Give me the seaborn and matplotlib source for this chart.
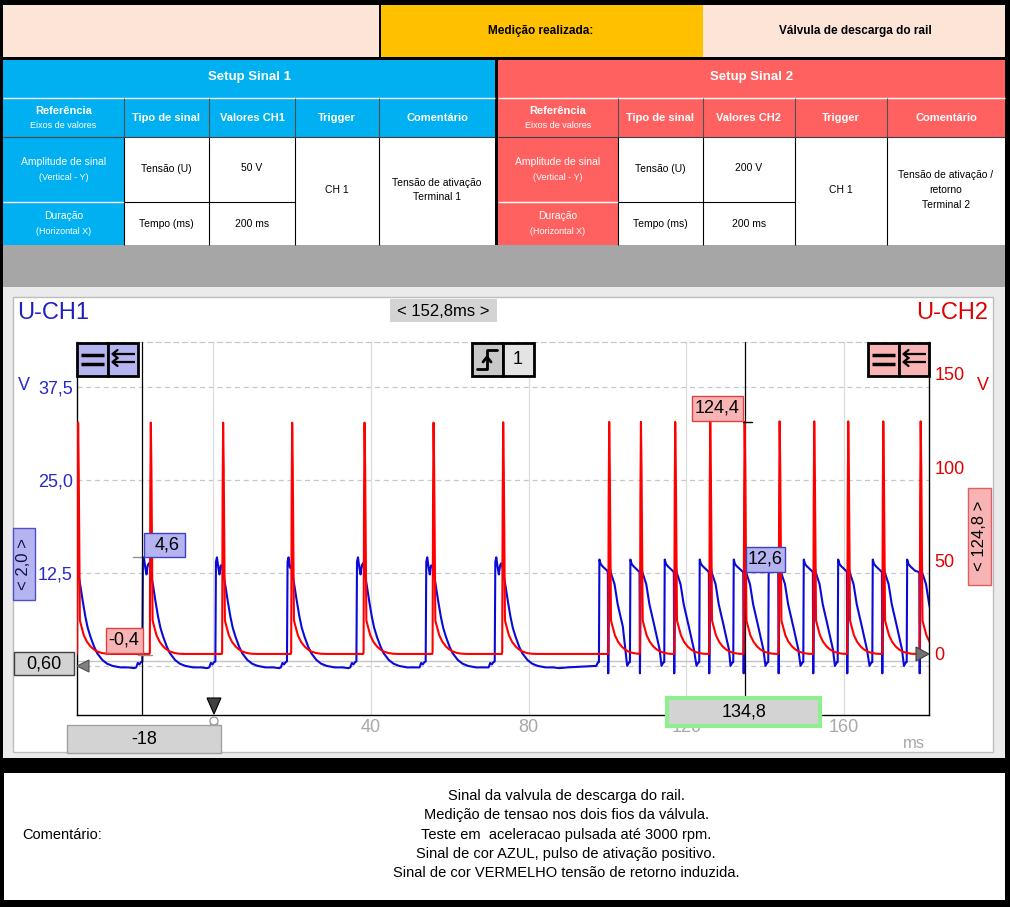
import numpy as np
import pandas as pd
import matplotlib
matplotlib.use("Agg")
import matplotlib.pyplot as plt
from matplotlib.patches import Rectangle, Polygon, Circle
import seaborn as sns

# ---------------- data ----------------
header_mid = "Medição realizada:"
header_right = "Válvula de descarga do rail"
setup_titles = ["Setup Sinal 1", "Setup Sinal 2"]
ref_header = ("Referência", "Eixos de valores")
col_headers_1 = ["Tipo de sinal", "Valores CH1", "Trigger", "Comentário"]
col_headers_2 = ["Tipo de sinal", "Valores CH2", "Trigger", "Comentário"]
row_labels = [("Amplitude de sinal", "(Vertical - Y)"), ("Duração", "(Horizontal X)")]
tipo_sinal = ["Tensão (U)", "Tempo (ms)"]
valores_ch1 = ["50 V", "200 ms"]
valores_ch2 = ["200 V", "200 ms"]
trigger_val = "CH 1"
comentario_1 = ["Tensão de ativação", "Terminal 1"]
comentario_2 = ["Tensão de ativação /", "retorno", "Terminal 2"]
comment_label = "Comentário:"
comment_lines = [
    "Sinal da valvula de descarga do rail.",
    "Medição de tensao nos dois fios da válvula.",
    "Teste em  aceleracao pulsada até 3000 rpm.",
    "Sinal de cor AZUL, pulso de ativação positivo.",
    "Sinal de cor VERMELHO tensão de retorno induzida.",
]

ch1_name, ch2_name = "U-CH1", "U-CH2"
ch1_ticks = [12.5, 25.0, 37.5]
ch1_tick_labels = ["12,5", "25,0", "37,5"]
ch2_ticks = [0, 50, 100, 150]
ch2_tick_labels = ["0", "50", "100", "150"]
time_ticks = [0, 40, 80, 120, 160]
time_tick_labels = ["0", "40", "80", "120", "160"]
time_range = (-34.6, 181.6)
ch1_range = (-6.6, 43.55)
ch2_range = (-32.7, 167.1)
cursor_times = [-18.0, 134.8]
cursor_ch1 = [14.6, 12.6]
cursor_ch2 = [-0.4, 124.4]
ch1_offset_marker = 0.60

# pulse events (ms): blue rise times and red spike times
blue_onset_ms = [-36.4, -17.97, 0.56, 18.73, 36.35, 53.93, 71.45, 97.84, 105.71,
                 114.42, 123.30, 131.93, 140.81, 149.70, 158.43, 167.21, 175.94]
red_spike_ms = [-34.57, -16.12, 2.23, 19.75, 38.12, 55.63, 73.30, 100.20, 108.25,
                116.95, 125.84, 134.57, 143.45, 152.23, 160.86, 169.75, 179.24]
red_peak_v = [123.9, 123.9, 123.9, 123.9, 123.9, 123.9, 124.1, 124.3, 124.3,
              124.3, 124.6, 124.4, 124.6, 124.6, 124.6, 124.6, 124.6]
pulse_kind = ["slow"] * 7 + ["fast"] * 10

# pulse shapes: (ms offset, volts)
slow_blue_pre = [(-1.6, -0.2), (-1.2, 0.4), (-0.8, 0.2), (-0.4, 0.5), (-0.05, 0.6),
                 (0.1, 14.0), (0.35, 14.6), (0.7, 13.2), (1.0, 12.3), (1.3, 13.5), (1.6, 13.8)]
slow_blue_post = [(0.0, 13.5), (0.3, 12.4), (0.85, 10.7), (1.4, 8.8), (2.1, 6.6), (2.7, 5.1),
                  (3.4, 3.9), (4.3, 2.6), (5.1, 1.7), (6.4, 0.8), (7.6, 0.3), (9.0, 0.0),
                  (11.0, -0.2), (13.0, -0.2), (14.5, -0.3), (16.5, -0.2)]
fast_blue_pre = [(-0.7, 0.0), (-0.2, 0.5), (0.0, 0.5), (0.12, 14.3), (0.45, 13.7), (0.9, 13.4),
                 (1.5, 13.1), (2.1, 12.8)]
fast_blue_post = [(-0.1, 12.6), (0.0, -1.0), (0.12, 6.0), (0.25, 13.8), (0.6, 12.6),
                  (1.6, 11.0), (2.4, 8.3), (3.7, 5.3), (5.0, 2.2), (6.2, 0.5), (7.5, 0.2)]
red_shape = [(-0.1, 0.0), (0.0, 1.0), (0.12, 85.0), (0.25, None), (0.4, 100.0), (0.55, 55.0),
             (0.7, 18.0), (1.0, 15.5), (1.7, 10.0), (2.5, 6.5), (3.4, 4.0), (4.2, 2.5),
             (5.1, 1.3), (6.3, 0.5), (7.5, 0.1), (9.0, 0.0)]


def build_blue():
    ts, vs = [], []
    n = len(blue_onset_ms)
    for i in range(n):
        t0, tr = blue_onset_ms[i], red_spike_ms[i]
        pre, post = (slow_blue_pre, slow_blue_post) if pulse_kind[i] == "slow" else (fast_blue_pre, fast_blue_post)
        pts = [(t0 + d, v) for d, v in pre if t0 + d < tr - 0.1]
        pts += [(tr + d, v) for d, v in post]
        if i + 1 < n:
            npre = slow_blue_pre if pulse_kind[i + 1] == "slow" else fast_blue_pre
            limit = blue_onset_ms[i + 1] + npre[0][0]
            pts = [p for p in pts if p[0] < limit]
        ts += [p[0] for p in pts]
        vs += [p[1] for p in pts]
    return ts, vs


def build_red():
    ts, vs = [], []
    n = len(red_spike_ms)
    for i in range(n):
        tr = red_spike_ms[i]
        pts = [(tr + d, red_peak_v[i] if v is None else v) for d, v in red_shape]
        if i + 1 < n:
            limit = red_spike_ms[i + 1] + red_shape[0][0]
            pts = [p for p in pts if p[0] < limit]
        ts += [p[0] for p in pts]
        vs += [p[1] for p in pts]
    return ts, vs


bt, bv = build_blue()
rt, rv = build_red()
blue_df = pd.DataFrame({"t": bt, "u": bv})
red_df = pd.DataFrame({"t": rt, "u": rv})

# ---------------- style ----------------
sns.set_theme(style="white")
plt.rcParams["font.family"] = ["Liberation Sans", "DejaVu Sans"]

W, H = 1010, 907
fig = plt.figure(figsize=(W / 100, H / 100), dpi=100)

BLUE_CELL = "#00B0F0"
RED_CELL = "#FF6161"
PEACH = "#FCE4D6"
GOLD = "#FFC000"
TRACE_BLUE = "#0A0AD8"
TRACE_RED = "#FF0000"
LBL_BLUE = "#2828C8"
LBL_RED = "#E00000"

bg = fig.add_axes([0, 0, 1, 1], zorder=0)
bg.set_xlim(0, W)
bg.set_ylim(H, 0)
bg.axis("off")


def rect(ax, x0, y0, x1, y1, fc, ec="none", lw=0, z=1):
    ax.add_patch(Rectangle((x0, y0), x1 - x0, y1 - y0, facecolor=fc, edgecolor=ec, linewidth=lw, zorder=z))


def line(ax, x0, y0, x1, y1, c, lw=1.0, z=3):
    ax.plot([x0, x1], [y0, y1], color=c, lw=lw, zorder=z, solid_capstyle="butt")


def txt(ax, x, y, s, size=8, color="black", weight="normal", ha="center", va="center", z=5, **kw):
    ax.text(x, y, s, fontsize=size, color=color, fontweight=weight, ha=ha, va=va, zorder=z, **kw)


# black frame
rect(bg, 0, 0, W, H, "black", z=0)
# row 1
rect(bg, 3, 5, 379, 57, PEACH)
rect(bg, 381, 5, 703, 57, GOLD)
rect(bg, 703, 5, 1005, 57, PEACH)
txt(bg, 541, 31, header_mid, size=8.5, weight="bold")
txt(bg, 855, 31, header_right, size=8.5, weight="bold")

rows_y = [60, 98, 137, 202, 245]
sections = [
    ([3, 124, 209, 295, 379, 495], BLUE_CELL, setup_titles[0], col_headers_1, valores_ch1, comentario_1),
    ([498, 618, 703, 795, 887, 1005], RED_CELL, setup_titles[1], col_headers_2, valores_ch2, comentario_2),
]
for cols, cc, title, heads, vals, comm in sections:
    rect(bg, cols[0], rows_y[0], cols[-1], rows_y[1], cc)
    txt(bg, (cols[0] + cols[-1]) / 2, 77, title, size=9.5, color="white", weight="bold")
    rect(bg, cols[0], rows_y[1], cols[-1], rows_y[2], cc)
    rect(bg, cols[0], rows_y[2], cols[1], rows_y[4], cc)
    rect(bg, cols[1], rows_y[2], cols[-1], rows_y[4], "white")
    line(bg, cols[0], rows_y[1], cols[-1], rows_y[1], "white", 1.0)
    for cx in cols[1:-1]:
        line(bg, cx, rows_y[1], cx, rows_y[2], "#505050", 0.8)
        line(bg, cx, rows_y[2], cx, rows_y[4], "black", 0.8)
    line(bg, cols[0], rows_y[2], cols[-1], rows_y[2], "#404040", 0.8)
    line(bg, cols[0], rows_y[3], cols[1], rows_y[3], "white", 1.0)
    line(bg, cols[1], rows_y[3], cols[3], rows_y[3], "black", 0.8)
    cxm = [(cols[k] + cols[k + 1]) / 2 for k in range(5)]
    txt(bg, cxm[0], 111, ref_header[0], size=8, color="white", weight="bold")
    txt(bg, cxm[0], 126, ref_header[1], size=6.5, color="white")
    for k, h in enumerate(heads):
        txt(bg, cxm[k + 1], 118, h, size=8, color="white", weight="bold")
    txt(bg, cxm[0], 162, row_labels[0][0], size=7.5, color="white")
    txt(bg, cxm[0], 177, row_labels[0][1], size=6.5, color="white")
    txt(bg, cxm[0], 216, row_labels[1][0], size=7.5, color="white")
    txt(bg, cxm[0], 231, row_labels[1][1], size=6.5, color="white")
    txt(bg, cxm[1], 169, tipo_sinal[0], size=7.5)
    txt(bg, cxm[1], 224, tipo_sinal[1], size=7.5)
    txt(bg, cxm[2], 168, vals[0], size=7.5)
    txt(bg, cxm[2], 224, vals[1], size=7.5)
    txt(bg, cxm[3], 190, trigger_val, size=7.5)
    n = len(comm)
    for j, s in enumerate(comm):
        txt(bg, cxm[4], 190 + (j - (n - 1) / 2) * 15, s, size=7.5)

# grey band and oscilloscope panel
rect(bg, 3, 245, 1005, 287, "#A6A6A6")
rect(bg, 3, 287, 1005, 758, "#EBEBEB")
rect(bg, 13, 297, 993, 752, "white", ec="#BDBDBD", lw=1.0)
# comment box
rect(bg, 4, 773, 1005, 900, "white")
txt(bg, 22, 835, comment_label, size=10.5, ha="left", family=["Liberation Sans Narrow", "Liberation Sans"])
for j, s in enumerate(comment_lines):
    txt(bg, 566, 796 + j * 19.3, s, size=10.5, family=["Liberation Sans Narrow", "Liberation Sans"])

# ---------------- oscilloscope plot ----------------
x_left, x_right, y_top, y_bot = 77, 929, 342, 715
pos = [x_left / W, 1 - y_bot / H, (x_right - x_left) / W, (y_bot - y_top) / H]
ax = fig.add_axes(pos, zorder=1)
ax.set_facecolor("white")
ax2 = ax.twinx()
ax2.set_zorder(2)
ax2.patch.set_visible(False)

# grid
for yv in [0.0] + ch1_ticks:
    ax.axhline(yv, color="#C8C8C8", lw=0.9, ls=(0, (4, 3)), zorder=0)
for xv in time_ticks:
    ax.axvline(xv, color="#DCDCDC", lw=0.9, zorder=0)
ax.axhline(ch1_offset_marker, color="#C4C4C4", lw=1.0, zorder=0.5)

sns.lineplot(data=blue_df, x="t", y="u", ax=ax, estimator=None, sort=False,
             color=TRACE_BLUE, linewidth=1.5)
sns.lineplot(data=red_df, x="t", y="u", ax=ax2, estimator=None, sort=False,
             color=TRACE_RED, linewidth=1.5)

# cursors
ax2.axvline(cursor_times[0], color="black", lw=0.9, zorder=1)
ax2.axvline(cursor_times[1], color="black", lw=0.9, zorder=1)
ax.plot([cursor_times[0] - 2.5, cursor_times[0]], [cursor_ch1[0]] * 2, color="#909090", lw=1.0)
ax2.plot([cursor_times[0] - 1.0, cursor_times[0] + 2.5], [cursor_ch2[0]] * 2, color="#909090", lw=1.0)
ax2.plot([cursor_times[1] - 0.3, cursor_times[1] + 2.0], [cursor_ch2[1]] * 2, color="black", lw=1.0)

ax.set_xlim(*time_range)
ax.set_ylim(*ch1_range)
ax2.set_ylim(*ch2_range)
ax.set_xlabel("")
ax.set_ylabel("")
ax2.set_ylabel("")
ax.set_xticks(time_ticks)
ax.set_xticklabels(time_tick_labels)
ax.set_yticks(ch1_ticks)
ax.set_yticklabels(ch1_tick_labels)
ax2.set_yticks(ch2_ticks)
ax2.set_yticklabels(ch2_tick_labels)
ax.tick_params(axis="x", length=0, pad=3, labelsize=13, labelcolor="#A8A8A8")
ax.tick_params(axis="y", length=0, pad=3, labelsize=13, labelcolor=LBL_BLUE)
ax2.tick_params(axis="y", length=0, pad=4, labelsize=13, labelcolor=LBL_RED)
for a in (ax, ax2):
    for s in a.spines.values():
        s.set_visible(False)
ax.spines["left"].set_visible(True)
ax.spines["bottom"].set_visible(True)
ax.spines["left"].set_color("black")
ax.spines["bottom"].set_color("black")
ax.spines["left"].set_linewidth(1.0)
ax.spines["bottom"].set_linewidth(1.0)
ax2.spines["right"].set_visible(True)
ax2.spines["right"].set_color("black")
ax2.spines["right"].set_linewidth(1.0)
ax.spines["top"].set_visible(True)
ax.spines["top"].set_color("#C8C8C8")
ax.spines["top"].set_linestyle((0, (4, 3)))
ax.spines["top"].set_linewidth(0.9)

# ---------------- overlay (labels, boxes, icons) ----------------
ov = fig.add_axes([0, 0, 1, 1], zorder=5)
ov.set_xlim(0, W)
ov.set_ylim(H, 0)
ov.axis("off")
ov.patch.set_visible(False)

txt(ov, 17, 313, ch1_name, size=17, color="#2020C0", ha="left")
txt(ov, 988, 313, ch2_name, size=17, color=LBL_RED, ha="right")
txt(ov, 24, 386, "V", size=13, color=LBL_BLUE)
txt(ov, 983, 386, "V", size=13, color=LBL_RED)
txt(ov, 914, 743, "ms", size=12, color="#A8A8A8")

# delta-time box
dt = cursor_times[1] - cursor_times[0]
rect(ov, 390, 299, 497, 322, "#D3D3D3")
txt(ov, 443, 311, "< " + f"{dt:.1f}".replace(".", ",") + "ms >", size=12)

# channel icons
def icon_pair(x0, fc):
    for k in range(2):
        rect(ov, x0 + k * 30.5, 343, x0 + (k + 1) * 30.5, 376, fc, ec="black", lw=2.0, z=6)
    line(ov, x0 + 4, 355, x0 + 27, 355, "black", 2.5, 7)
    line(ov, x0 + 4, 364, x0 + 27, 364, "black", 2.5, 7)
    xa = x0 + 30.5
    for yy in (354, 362):
        line(ov, xa + 5, yy, xa + 27, yy, "black", 1.6, 7)
        ov.plot([xa + 10, xa + 5, xa + 10], [yy - 4, yy, yy + 4], color="black", lw=1.6, zorder=7)


icon_pair(77, "#B4B4F0")
icon_pair(868, "#F8B4B4")
# trigger icon
rect(ov, 472, 343, 503, 376, "#C8C8C8", ec="black", lw=2.0, z=6)
rect(ov, 503, 343, 534, 376, "#E4E4E4", ec="black", lw=2.0, z=6)
ov.plot([477, 487, 487, 497], [369, 369, 350, 350], color="black", lw=2.0, zorder=7)
ov.plot([483, 487, 491], [362, 357, 362], color="black", lw=2.0, zorder=7)
txt(ov, 518, 360, "1", size=13, z=7)

# scale boxes (rotated)
rect(ov, 13, 528, 35, 600, "#B4B4F0", ec="#5050C8", lw=1.0)
txt(ov, 24, 564, "< 2,0 >", size=12, color="#101050", rotation=90)
rect(ov, 968, 488, 991, 585, "#F8B4B4", ec="#E06060", lw=1.0)
txt(ov, 980, 536, "< 124,8 >", size=12, rotation=90)

# cursor value boxes
def fmt(v, d=1):
    return f"{v:.{d}f}".replace(".", ",")


rect(ov, 144, 533, 185, 557, "#B4B4F0", ec="#4040C0", lw=1.0)
txt(ov, 167, 545, fmt(cursor_ch1[0])[1:], size=13)
rect(ov, 106, 628, 143, 653, "#F8B4B4", ec="#E04040", lw=1.0)
txt(ov, 124, 640, fmt(cursor_ch2[0]), size=13)
rect(ov, 746, 547, 785, 572, "#B4B4F0", ec="#4040C0", lw=1.0, z=1)
txt(ov, 765, 559, fmt(cursor_ch1[1]), size=13, z=1.5)
rect(ov, 692, 396, 743, 421, "#F8B4B4", ec="#E04040", lw=1.0)
txt(ov, 717, 408, fmt(cursor_ch2[1]), size=13)

# offset marker 0,60
rect(ov, 14, 652, 74, 675, "#D3D3D3", ec="#404040", lw=1.0)
txt(ov, 44, 664, fmt(ch1_offset_marker, 2), size=13)
ov.add_patch(Polygon([(77, 666), (89, 660), (89, 672)], closed=True, fc="#808080", ec="#505050", lw=0.8, zorder=6))
ov.add_patch(Polygon([(929, 654), (916, 647), (916, 661)], closed=True, fc="#707070", ec="#404040", lw=0.8, zorder=6))

# trigger marker
ov.add_patch(Polygon([(207, 698), (221, 698), (214, 714)], closed=True, fc="#404040", ec="black", lw=0.8, zorder=6))
ov.add_patch(Circle((214, 721), 4, fc="white", ec="#A0A0A0", lw=1.0, zorder=5.5))

# time cursor boxes
rect(ov, 67, 725, 221, 753, "#D3D3D3", ec="#A0A0A0", lw=1.0, z=6)
txt(ov, 144, 740, str(int(cursor_times[0])), size=13, z=7)
rect(ov, 667, 698, 820, 726, "#D3D3D3", ec="#90EE90", lw=3.0, z=6)
txt(ov, 744, 712, fmt(cursor_times[1]), size=13, z=7)

fig.savefig("out.png", dpi=100)
